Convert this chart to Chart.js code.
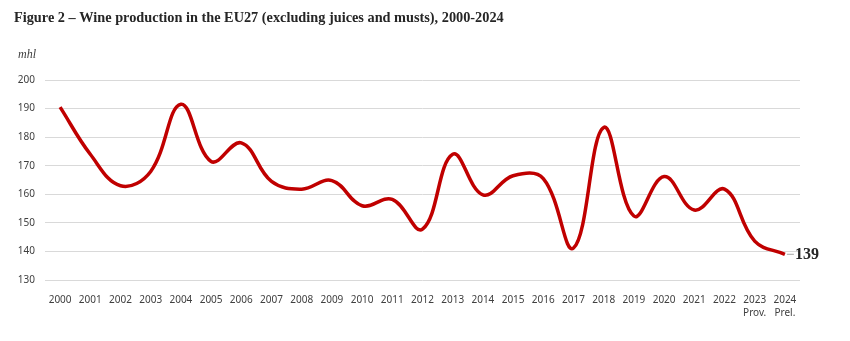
<!DOCTYPE html>
<html>
<head>
    <title>Wine production in the EU27</title>
    <script src="https://cdn.jsdelivr.net/npm/chart.js@4.4.0/dist/chart.umd.min.js"></script>
    <style>
        body { margin: 0; background: #fff; }
        .chart-container { position: relative; width: 850px; height: 341px; }
    </style>
</head>
<body>
    <div class="chart-container">
        <canvas id="wineChart"></canvas>
    </div>
    <script>
        // Years and production (million hl)
        const years = ['2000', '2001', '2002', '2003', '2004', '2005', '2006', '2007', '2008', '2009',
            '2010', '2011', '2012', '2013', '2014', '2015', '2016', '2017', '2018', '2019',
            '2020', '2021', '2022', ['2023', 'Prov.'], ['2024', 'Prel.']];
        const production = [190.5, 174, 163, 168, 191.5, 171.5, 178, 164.5, 161.8, 164.8,
            156, 158.2, 147.8, 174, 159.8, 166.5, 165.5, 141.2, 183.4, 152.4,
            166.2, 154.5, 161.8, 143.6, 139];
        const yTicks = [130, 140, 150, 160, 170, 180, 190, 200];
        const lastLabel = '139';

        // Title, unit and end label drawn on the canvas
        const annotations = {
            id: 'annotations',
            afterDraw(chart) {
                const ctx = chart.ctx;
                ctx.save();
                ctx.fillStyle = '#262626';
                ctx.font = 'bold 14.3px "Liberation Serif"';
                ctx.textBaseline = 'middle';
                ctx.textAlign = 'left';
                ctx.fillText('Figure 2 \u2013 Wine production in the EU27 (excluding juices and musts), 2000-2024', 14, 18);

                ctx.font = 'italic 12px "Liberation Serif"';
                ctx.fillStyle = '#404040';
                ctx.fillText('mhl', 18, 55);

                const meta = chart.getDatasetMeta(0);
                const pt = meta.data[meta.data.length - 1];
                ctx.strokeStyle = '#a6a6a6';
                ctx.lineWidth = 1;
                ctx.beginPath();
                ctx.moveTo(pt.x + 2, pt.y);
                ctx.lineTo(pt.x + 9, pt.y);
                ctx.stroke();
                ctx.fillStyle = '#262626';
                ctx.font = 'bold 16px "Liberation Serif"';
                ctx.fillText(lastLabel, pt.x + 10, pt.y + 1);
                ctx.restore();
            }
        };

        new Chart(document.getElementById('wineChart'), {
            type: 'line',
            data: {
                labels: years,
                datasets: [{
                    data: production,
                    borderColor: '#c00000',
                    borderWidth: 3.5,
                    tension: 0.4,
                    pointRadius: 0,
                    fill: false
                }]
            },
            options: {
                responsive: true,
                maintainAspectRatio: false,
                animation: false,
                layout: { padding: { top: 80, right: 50, left: 0, bottom: 0 } },
                plugins: {
                    legend: { display: false },
                    tooltip: { enabled: false }
                },
                scales: {
                    x: {
                        offset: true,
                        grid: { display: false },
                        border: { display: false },
                        ticks: {
                            color: '#404040',
                            font: { family: '"Noto Sans"', size: 10, lineHeight: 1.3 },
                            padding: 6,
                            maxRotation: 0,
                            autoSkip: false
                        },
                        afterFit(scale) { scale.height = 61; }
                    },
                    y: {
                        min: 130,
                        max: 200,
                        afterBuildTicks(scale) { scale.ticks = yTicks.map(v => ({ value: v })); },
                        grid: { color: '#d9d9d9', lineWidth: 1, drawTicks: false },
                        border: { display: false },
                        ticks: {
                            color: '#404040',
                            font: { family: '"Noto Sans"', size: 10 },
                            padding: 10
                        },
                        afterFit(scale) { scale.width = 45; }
                    }
                }
            },
            plugins: [annotations]
        });
    </script>
</body>
</html>
